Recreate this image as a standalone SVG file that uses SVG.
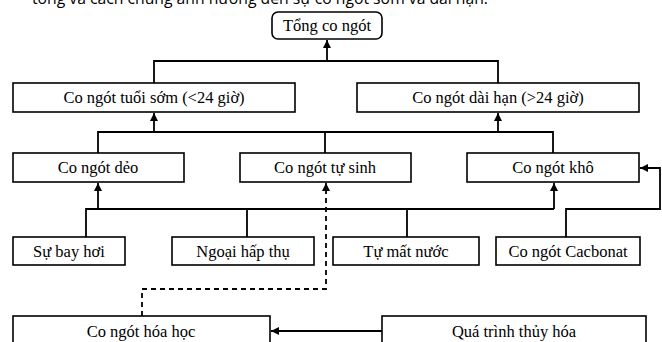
<svg xmlns="http://www.w3.org/2000/svg" width="662" height="342" viewBox="0 0 662 342">
<defs>
<marker id="ah" viewBox="0 0 10 10" refX="10" refY="5" markerWidth="8" markerHeight="8" markerUnits="userSpaceOnUse" orient="auto">
<path d="M0,0 L10,5 L0,10 z" fill="#000"/>
</marker>
<style>
.box{fill:#fff;stroke:#000;stroke-width:1.6}
.t{font-family:"Liberation Serif","Times New Roman",serif;font-size:16.5px;fill:#000;text-anchor:middle}
.c{fill:none;stroke:#000;stroke-width:1.8}
.a{marker-end:url(#ah)}
.d{stroke-dasharray:5,4}
.cap{font-family:"Open Sans","Noto Sans",sans-serif;font-size:17px;fill:#000}
</style>
</defs>
<rect width="662" height="342" fill="#fff"/>
<text class="cap" x="32" y="4" textLength="456" lengthAdjust="spacingAndGlyphs">tổng và cách chúng ảnh hưởng đến sự co ngót sớm và dài hạn.</text>
<g id="connectors">
<path class="c a" d="M327,61 V40"/>
<path class="c" d="M154,83 V61 H498 V83"/>
<path class="c a" d="M154,132 V113"/>
<path class="c a" d="M498,132 V113"/>
<path class="c" d="M98,153 V132 H553 V153 M325,132 V153"/>
<path class="c a" d="M98,209 V183"/>
<path class="c a" d="M554,209 V183"/>
<path class="c" d="M86,237 V209 H554 M247,209 V237 M407,209 V237"/>
<path class="c a" d="M566,237 V209 H660 V168 H640"/>
<path class="c a d" d="M142,316 V289 H326 V183"/>
<path class="c a" d="M382,331 H271"/>
</g>
<g id="n-tong"><rect class="box" x="272" y="12" width="110" height="27" rx="6"/><text class="t" x="327" y="31">Tổng co ngót</text></g>
<g id="n-tuoisom"><rect class="box" x="13" y="83" width="282" height="29"/><text class="t" x="154" y="103">Co ngót tuổi sớm (&lt;24 giờ)</text></g>
<g id="n-daihan"><rect class="box" x="357" y="83" width="282" height="29"/><text class="t" x="498" y="103">Co ngót dài hạn (&gt;24 giờ)</text></g>
<g id="n-deo"><rect class="box" x="13" y="153" width="171" height="29"/><text class="t" x="98" y="173">Co ngót dẻo</text></g>
<g id="n-tusinh"><rect class="box" x="240" y="153" width="171" height="29"/><text class="t" x="325" y="173">Co ngót tự sinh</text></g>
<g id="n-kho"><rect class="box" x="467" y="153" width="172" height="29"/><text class="t" x="553" y="173">Co ngót khô</text></g>
<g id="n-bayhoi"><rect class="box" x="13" y="237" width="112" height="28"/><text class="t" x="69" y="257">Sự bay hơi</text></g>
<g id="n-ngoai"><rect class="box" x="172" y="237" width="142" height="28"/><text class="t" x="243" y="257">Ngoại hấp thụ</text></g>
<g id="n-matnuoc"><rect class="box" x="333" y="237" width="146" height="28"/><text class="t" x="406" y="257">Tự mất nước</text></g>
<g id="n-cacbonat"><rect class="box" x="496" y="237" width="144" height="28"/><text class="t" x="568" y="257">Co ngót Cacbonat</text></g>
<g id="n-hoahoc"><rect class="box" x="13" y="316" width="257" height="30"/><text class="t" x="141" y="337">Co ngót hóa học</text></g>
<g id="n-thuyhoa"><rect class="box" x="382" y="316" width="264" height="30"/><text class="t" x="514" y="337">Quá trình thủy hóa</text></g>
</svg>
